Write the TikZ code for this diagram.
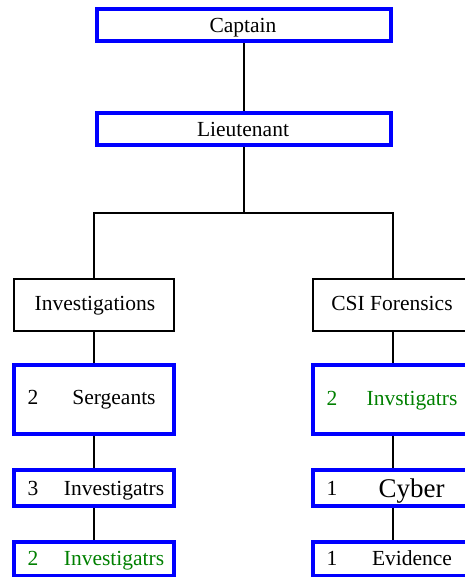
\documentclass[tikz,border=0pt]{standalone}
\usepackage{fontspec}
\setmainfont{Liberation Serif}
\usetikzlibrary{calc}
\definecolor{boxblue}{RGB}{0,0,255}
\definecolor{txtgreen}{RGB}{0,128,0}
\begin{document}
\begin{tikzpicture}[x=1pt,y=-1pt,
  every node/.style={font=\fontsize{21.5}{24}\selectfont, inner sep=0pt},
  lbl/.style={anchor=base},
  bluebox/.style={draw=boxblue, line width=4pt, minimum width=160pt},
  blackbox/.style={draw=black, line width=1.8pt, minimum width=160pt, minimum height=52pt},
  topbox/.style={draw=boxblue, line width=4pt, minimum width=294pt, minimum height=32pt},
  conn/.style={draw=black, line width=1.6pt},
  greentxt/.style={text=txtgreen}]
\useasboundingbox (0,0) rectangle (464,577);
% top
\node[topbox] (cap) at (244,25) {};
\node[lbl] (capt) at ($(cap.center)+(-1,8)$) {Captain};
\node[topbox] (lt) at (244,129) {};
\node[lbl] (ltt) at ($(lt.center)+(-1,8)$) {Lieutenant};
\coordinate (j) at (244,213);
% second level
\node[blackbox] (inv) at (94,305) {};
\node[lbl] (invt) at ($(inv.center)+(1,5.5)$) {Investigations};
\node[blackbox] (csi) at (393,305) {};
\node[lbl] (csit) at ($(csi.center)+(-1,5.5)$) {CSI Forensics};
% left column
\node[bluebox, minimum height=69pt] (sg) at (94,399.5) {};
\node[lbl] (sgn) at ($(sg.center)+(-61,5)$) {2};
\node[lbl] (sgt) at ($(sg.center)+(20,5)$) {Sergeants};
\node[bluebox, minimum height=36pt] (li) at (94,488) {};
\node[lbl] (lin) at ($(li.center)+(-61,7)$) {3};
\node[lbl] (lit) at ($(li.center)+(20,7)$) {Investigatrs};
\node[bluebox, minimum height=34pt] (lg) at (94,559) {};
\node[lbl, greentxt] (lgn) at ($(lg.center)+(-61,6)$) {2};
\node[lbl, greentxt] (lgt) at ($(lg.center)+(20,6)$) {Investigatrs};
% right column
\node[bluebox, minimum height=69pt] (rg) at (393,399.5) {};
\node[lbl, greentxt] (rgn) at ($(rg.center)+(-61,5.5)$) {2};
\node[lbl, greentxt] (rgt) at ($(rg.center)+(19,5.5)$) {Invstigatrs};
\node[bluebox, minimum height=36pt] (cy) at (393,488) {};
\node[lbl] (cyn) at ($(cy.center)+(-61,7)$) {1};
\node[lbl, font=\fontsize{27}{30}\selectfont] (cyt) at ($(cy.center)+(18.5,9)$) {Cyber};
\node[bluebox, minimum height=34pt] (ev) at (393,559) {};
\node[lbl] (evn) at ($(ev.center)+(-61,6)$) {1};
\node[lbl] (evt) at ($(ev.center)+(19,6)$) {Evidence};
% connectors
\draw[conn] (cap.south) -- (lt.north);
\draw[conn] (lt.south) -- (j);
\draw[conn] (j) -| (inv.north);
\draw[conn] (j) -| (csi.north);
\draw[conn] (inv.south) -- (sg.north);
\draw[conn] (sg.south) -- (li.north);
\draw[conn] (li.south) -- (lg.north);
\draw[conn] (csi.south) -- (rg.north);
\draw[conn] (rg.south) -- (cy.north);
\draw[conn] (cy.south) -- (ev.north);
\end{tikzpicture}
\end{document}
